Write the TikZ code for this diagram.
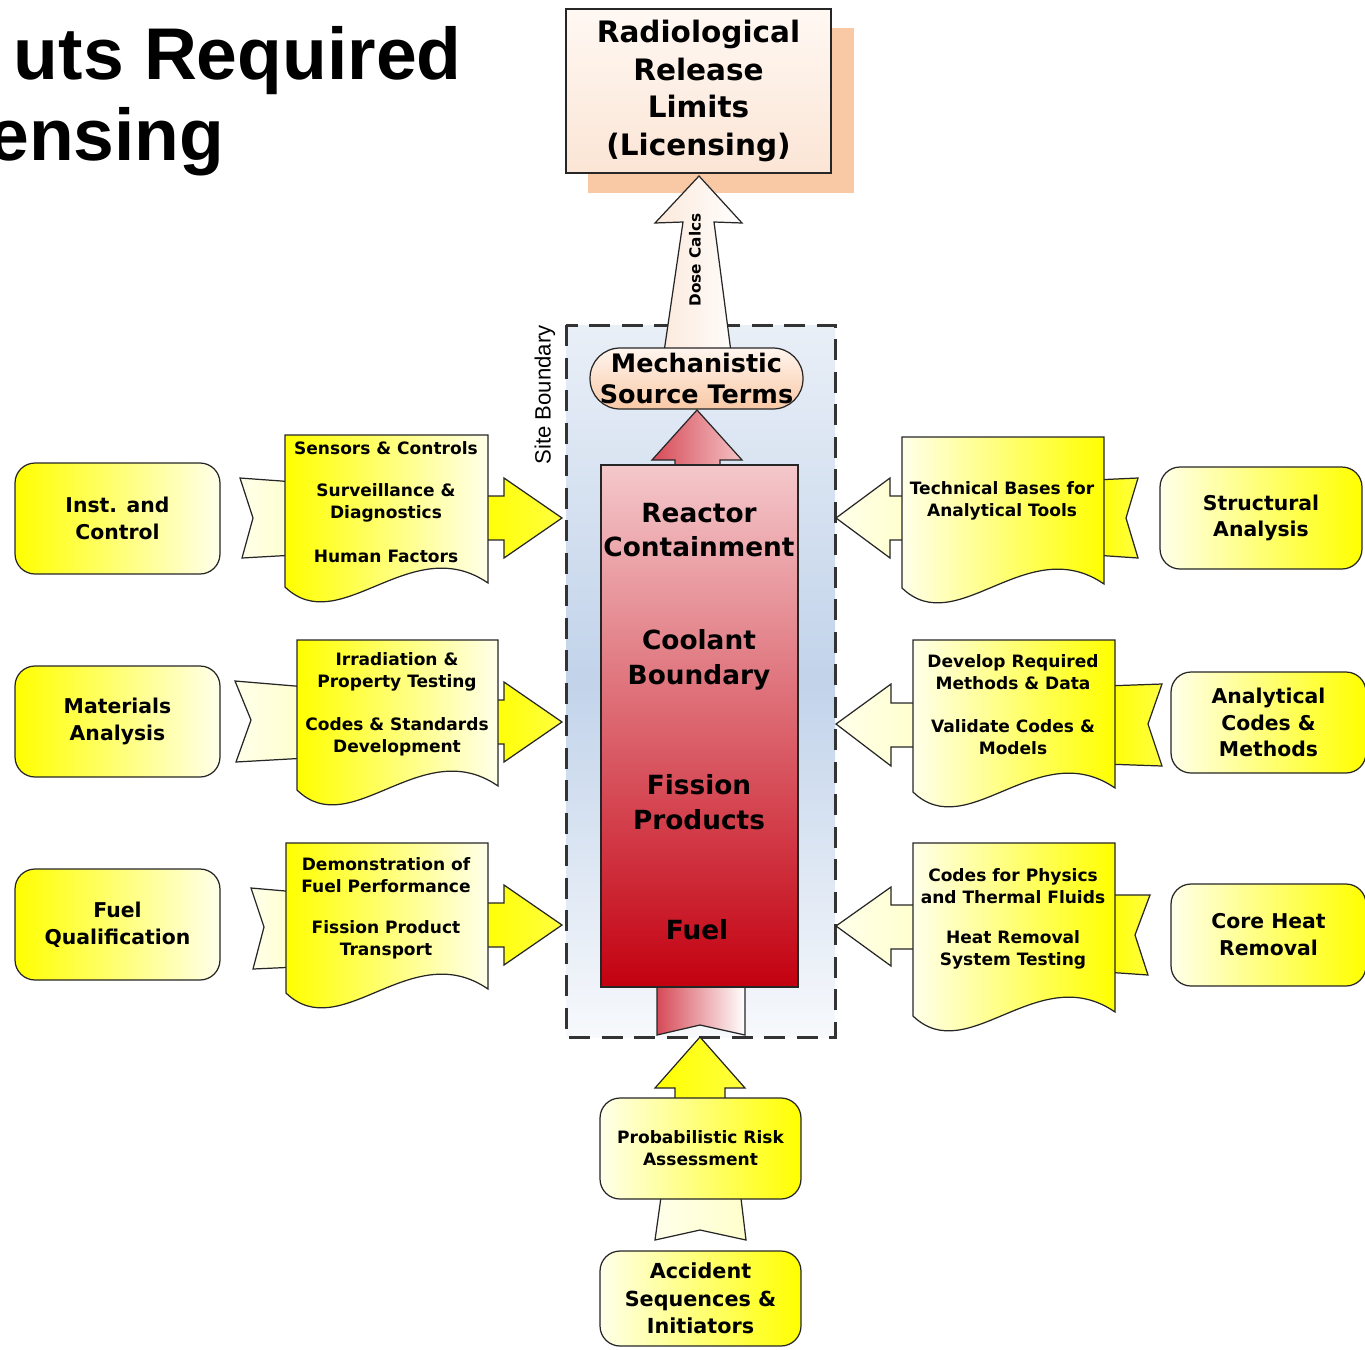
\documentclass[tikz,border=0pt]{standalone}
\usepackage{fontspec}
\setmainfont{DejaVu Sans}
\newfontfamily\arialfont{Liberation Sans}

\definecolor{ybright}{HTML}{FFFF00}
\definecolor{ypale}{HTML}{FFFFEA}
\definecolor{peach}{HTML}{F9C9A6}
\definecolor{radtop}{HTML}{FFF8F3}
\definecolor{radbot}{HTML}{FBE5D5}
\definecolor{mechtop}{HTML}{FFF5EE}
\definecolor{dosel}{HTML}{FBE8DA}
\definecolor{pinktop}{HTML}{F4C8CB}
\definecolor{redbot}{HTML}{C30010}
\definecolor{redarrow}{HTML}{D64A57}
\definecolor{pinkarrow}{HTML}{F4C3C6}
\definecolor{sitetop}{HTML}{E9EFF7}
\definecolor{sitemid}{HTML}{C2D3EA}
\definecolor{sitebot}{HTML}{F7F9FC}

\newcommand{\titlefont}{\arialfont\bfseries\fontsize{41.7}{50}\selectfont}
\newcommand{\sitefont}{\arialfont\fontsize{12.6}{15}\selectfont}
\newcommand{\radfont}{\bfseries\fontsize{16.8}{21.3}\selectfont}
\newcommand{\mechfont}{\bfseries\fontsize{14.5}{18.2}\selectfont}
\newcommand{\colfont}{\bfseries\fontsize{15}{19.8}\selectfont}
\newcommand{\boxfont}{\bfseries\fontsize{11.6}{15.3}\selectfont}
\newcommand{\accfont}{\bfseries\fontsize{11.8}{15.6}\selectfont}
\newcommand{\docfont}{\bfseries\fontsize{9.7}{12.5}\selectfont}
\newcommand{\dosefont}{\bfseries\fontsize{8.7}{10}\selectfont}

\tikzset{
  outline/.style={draw=black!85, line width=0.7pt},
  boundary/.style={draw=black!80, line width=1.7pt, dash pattern=on 12pt off 6.5pt},
  lbox/.style={outline, rounded corners=0.4cm, left color=ybright, right color=ypale,
    minimum width=4.1cm, minimum height=2.22cm, inner sep=0pt, align=center, font=\boxfont},
  rbox/.style={outline, rounded corners=0.4cm, left color=ypale, right color=ybright,
    minimum width=4.04cm, minimum height=2.04cm, inner sep=0pt, align=center, font=\boxfont},
  ldoc/.style={outline, left color=ybright, right color=ypale},
  rdoc/.style={outline, left color=ypale, right color=ybright},
  yelarrow/.style={outline, left color=ybright, right color=ybright!75!white},
  palearrow/.style={outline, left color=ypale, right color=ybright!20!white},
  txt/.style={align=center, font=\docfont, inner sep=0pt},
  coltxt/.style={align=center, font=\colfont, inner sep=0pt}
}

\begin{document}
\begin{tikzpicture}[x=0.02cm, y=-0.02cm]
  \useasboundingbox (0,0) rectangle (1365,1349);

  % title (cut at the left edge)
  \node[anchor=base east, font=\titlefont, inner sep=0pt] (title1) at (462,79) {uts Required};
  \node[anchor=base west, font=\titlefont, inner sep=0pt] (title2) at (-12,160) {ensing};

  % site boundary
  \path[top color=sitetop, bottom color=sitebot, middle color=sitemid] (566,325) rectangle (835,1037);
  \draw[boundary] (566,325) rectangle (835,1037);
  \node[rotate=90, font=\sitefont] (site) at (545,395) {Site Boundary};

  % release limits
  \fill[peach] (588,28) rectangle (854,193);
  \node[outline, minimum width=5.3cm, minimum height=3.28cm, inner sep=0pt, top color=radtop,
    bottom color=radbot, align=center, font=\radfont] (limits) at (698.5,91)
    {Radiological\\Release\\Limits\\(Licensing)};

  % dose calcs arrow
  \path[outline, left color=dosel, right color=white] (664,352) -- (683,222) -- (655,223)
    -- (699,176) -- (742,223) -- (714,222) -- (731,352) -- cycle;
  \node[rotate=90, font=\dosefont] (dose) at (695,260) {Dose Calcs};

  % source terms
  \node[outline, rounded corners=0.6cm, minimum width=4.26cm, minimum height=1.22cm, inner sep=0pt,
    top color=mechtop, bottom color=peach, align=center, font=\mechfont] (mech) at (696.5,378.5)
    {Mechanistic\\Source Terms};

  % reactor column with its arrows
  \path[outline, left color=redarrow, right color=pinkarrow] (675,470) -- (675,460) -- (652,460)
    -- (697,410) -- (742,460) -- (720,460) -- (720,470) -- cycle;
  \path[outline, left color=redarrow, right color=white] (657,980) -- (745,980) -- (745,1035)
    -- (700,1025) -- (657,1035) -- cycle;
  \node[outline, minimum width=3.94cm, minimum height=10.44cm, inner sep=0pt, top color=pinktop,
    bottom color=redbot] (reactor) at (699.5,726) {};
  \node[coltxt] (contain) at (699,530) {Reactor\\Containment};
  \node[coltxt] (coolant) at (699,660) {Coolant\\Boundary};
  \node[coltxt] (fp) at (699,802) {Fission\\Products};
  \node[coltxt] (fuel) at (697,930) {Fuel};

  % PRA and accident sequences
  \path[yelarrow] (675,1105) -- (675,1088) -- (655,1088) -- (700,1037) -- (745,1088) -- (725,1088)
    -- (725,1105) -- cycle;
  \path[palearrow] (662,1190) -- (740,1190) -- (746,1240) -- (700,1230) -- (655,1240) -- cycle;
  \node[rbox, minimum width=4.02cm, minimum height=2.02cm, font=\docfont] (pra) at (700.5,1148.5)
    {Probabilistic Risk\\Assessment};
  \node[rbox, minimum width=4.02cm, minimum height=1.9cm, font=\accfont] (acc) at (700.5,1298.5)
    {Accident\\Sequences \&\\Initiators};

  % left row 1
  \path[yelarrow] (478,496) -- (504,496) -- (504,478) -- (562,518) -- (504,558) -- (504,540)
    -- (478,540) -- cycle;
  \path[palearrow] (240,478) -- (295,482) -- (295,555) -- (242,558) -- (253,518) -- cycle;
  \path[ldoc] (285,435) -- (488,435) -- (488,583) .. controls (411,530) and (340,640) .. (285,587) -- cycle;
  \node[txt] (sens) at (386,448) {Sensors \& Controls};
  \node[txt] (surv) at (386,503) {Surveillance \&\\Diagnostics};
  \node[txt] (human) at (386,556) {Human Factors};
  \node[lbox] (inst) at (117.5,518.5) {Inst. and\\Control};

  % left row 2
  \path[yelarrow] (488,700) -- (504,700) -- (504,682) -- (562,722) -- (504,762) -- (504,744)
    -- (488,744) -- cycle;
  \path[palearrow] (235,681) -- (307,687) -- (307,758) -- (236,762) -- (251,720) -- cycle;
  \path[ldoc] (297,640) -- (498,640) -- (498,786) .. controls (422,733) and (351,843) .. (297,790) -- cycle;
  \node[txt] (irr) at (397,672) {Irradiation \&\\Property Testing};
  \node[txt] (stds) at (397,737) {Codes \& Standards\\Development};
  \node[lbox] (mat) at (117.5,721.5) {Materials\\Analysis};

  % left row 3
  \path[yelarrow] (478,903) -- (504,903) -- (504,885) -- (562,925) -- (504,965) -- (504,947)
    -- (478,947) -- cycle;
  \path[palearrow] (251,888) -- (297,892) -- (297,967) -- (253,969) -- (264,927) -- cycle;
  \path[ldoc] (286,843) -- (488,843) -- (488,989) .. controls (411,936) and (341,1046) .. (286,993) -- cycle;
  \node[txt] (demo) at (386,875) {Demonstration of\\Fuel Performance};
  \node[txt] (fpt) at (386,940) {Fission Product\\Transport};
  \node[lbox] (fuelq) at (117.5,924.5) {Fuel\\Qualification};

  % right row 1
  \path[palearrow] (912,496) -- (890,496) -- (890,478) -- (836,518) -- (890,558) -- (890,540)
    -- (912,540) -- cycle;
  \path[yelarrow] (1094,480) -- (1138,478) -- (1126,518) -- (1138,558) -- (1094,555) -- cycle;
  \path[rdoc] (902,437) -- (1104,437) -- (1104,584) .. controls (1027,531) and (957,641) .. (902,588) -- cycle;
  \node[txt] (tech) at (1002,501) {Technical Bases for\\Analytical Tools};
  \node[rbox] (struct) at (1261,518) {Structural\\Analysis};

  % right row 2
  \path[palearrow] (923,703) -- (891,703) -- (891,684) -- (836,724) -- (891,766) -- (891,747)
    -- (923,747) -- cycle;
  \path[yelarrow] (1105,686) -- (1162,684) -- (1148,724) -- (1162,766) -- (1105,764) -- cycle;
  \path[rdoc] (913,640) -- (1115,640) -- (1115,788) .. controls (1038,735) and (968,845) .. (913,792) -- cycle;
  \node[txt] (dev) at (1013,672) {Develop Required\\Methods \& Data};
  \node[txt] (valid) at (1013,737) {Validate Codes \&\\Models};
  \node[rbox, minimum width=3.9cm, minimum height=2.02cm] (anal) at (1268.5,722.5) {Analytical\\Codes \&\\Methods};

  % right row 3
  \path[palearrow] (923,905) -- (891,905) -- (891,887) -- (836,926) -- (891,966) -- (891,949)
    -- (923,949) -- cycle;
  \path[yelarrow] (1105,895) -- (1150,895) -- (1135,935) -- (1148,975) -- (1105,972) -- cycle;
  \path[rdoc] (913,843) -- (1115,843) -- (1115,1012) .. controls (1038,959) and (968,1069) .. (913,1016) -- cycle;
  \node[txt] (phys) at (1013,886) {Codes for Physics\\and Thermal Fluids};
  \node[txt] (heat) at (1013,950) {Heat Removal\\System Testing};
  \node[rbox, minimum width=3.9cm, minimum height=2.04cm] (coreheat) at (1268.5,935) {Core Heat\\Removal};
\end{tikzpicture}
\end{document}
